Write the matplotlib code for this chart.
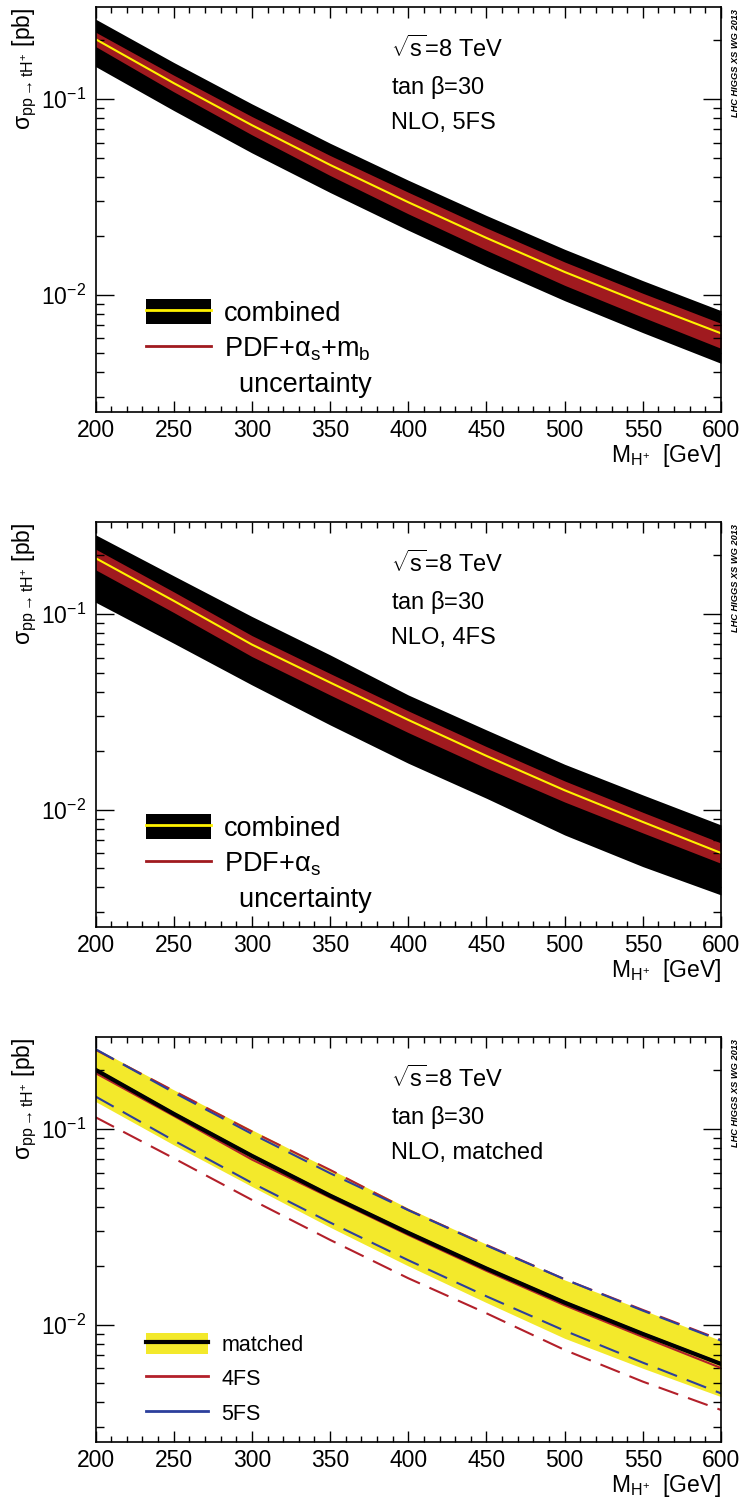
import matplotlib
matplotlib.use('Agg')
import matplotlib.pyplot as plt
import matplotlib.ticker as ticker
from matplotlib.patches import Patch
from matplotlib.lines import Line2D
from matplotlib.legend_handler import HandlerTuple

plt.rcParams.update({
    'font.family': ['Liberation Sans', 'DejaVu Sans'],
    'mathtext.fontset': 'custom',
    'mathtext.rm': 'Liberation Sans',
    'mathtext.it': 'Liberation Sans:italic',
    'mathtext.bf': 'Liberation Sans:bold',
    'mathtext.default': 'regular',
    'axes.unicode_minus': False,
    'axes.linewidth': 1.2,
})

# charged Higgs mass [GeV]
mass = [200, 250, 300, 350, 400, 450, 500, 550, 600]

# NLO 5FS cross sections [pb]
xs5_central = [0.2028, 0.1208, 0.0736, 0.0461, 0.0297, 0.0195, 0.01306, 0.00903, 0.00634]
xs5_comb_up = [0.2567, 0.1541, 0.0946, 0.0595, 0.0385, 0.0254, 0.01706, 0.01179, 0.00828]
xs5_comb_dn = [0.1469, 0.0875, 0.0531, 0.0333, 0.02135, 0.01396, 0.00931, 0.00639, 0.00445]
xs5_pdf_up = [0.2202, 0.1327, 0.0815, 0.0515, 0.0334, 0.02194, 0.01469, 0.01016, 0.00713]
xs5_pdf_dn = [0.1860, 0.1091, 0.0657, 0.0407, 0.0259, 0.01686, 0.01116, 0.00766, 0.00531]

# NLO 4FS cross sections [pb]
xs4_central = [0.1935, 0.1170, 0.0699, 0.0447, 0.02877, 0.01883, 0.01256, 0.00865, 0.00600]
xs4_comb_up = [0.2547, 0.1571, 0.0973, 0.0619, 0.0386, 0.02557, 0.01706, 0.01189, 0.00835]
xs4_comb_dn = [0.1151, 0.0710, 0.04346, 0.02713, 0.01727, 0.01143, 0.00742, 0.00511, 0.00366]
xs4_pdf_up = [0.2152, 0.1301, 0.0777, 0.0497, 0.0320, 0.02101, 0.01402, 0.00969, 0.00675]
xs4_pdf_dn = [0.1687, 0.1020, 0.0607, 0.0386, 0.02478, 0.01628, 0.01094, 0.00760, 0.00531]

# matched result [pb]
xsm_central = [0.2012, 0.1198, 0.0730, 0.0457, 0.02947, 0.01935, 0.01296, 0.00896, 0.00629]
xsm_up = [0.2599, 0.1590, 0.0992, 0.0624, 0.0394, 0.02578, 0.01693, 0.01189, 0.00828]
xsm_dn = [0.1385, 0.0831, 0.0509, 0.0315, 0.01997, 0.01296, 0.00851, 0.00598, 0.00428]

RED = '#a01a1f'
YELLOW = '#fff200'
BAND_YELLOW = '#f3e92b'
LRED = '#b3202a'
BLUE = '#2c3f9c'

fig = plt.figure(figsize=(7.45, 15.04), dpi=100)
bottoms = [0.72586, 0.38344, 0.04102]
axes = [fig.add_axes([0.1282, b, 0.8396, 0.26928]) for b in bottoms]


def style_axes(ax, scheme):
    ax.set_yscale('log')
    ax.set_xlim(200, 600)
    ax.set_ylim(0.0025, 0.295)
    ax.xaxis.set_major_locator(ticker.MultipleLocator(50))
    ax.xaxis.set_minor_locator(ticker.MultipleLocator(10))
    ax.yaxis.set_minor_locator(ticker.LogLocator(base=10, subs=range(2, 10)))
    ax.yaxis.set_minor_formatter(ticker.NullFormatter())
    ax.tick_params(which='both', direction='in', top=True, right=True, width=1.0, labelsize=16.5)
    ax.tick_params(axis='x', which='major', length=8, pad=4.5)
    ax.tick_params(axis='x', which='minor', length=4.3)
    ax.tick_params(axis='y', which='major', length=12.7, pad=6.5)
    ax.tick_params(axis='y', which='minor', length=6)
    ax.text(-0.1127, 1.0, r'$\sigma_{pp \rightarrow tH^{+}}$ [pb]', transform=ax.transAxes,
            rotation=90, rotation_mode='anchor', ha='right', va='center', fontsize=16.5)
    ax.text(1.0, -0.123, r'$M_{H^{+}}$  [GeV]', transform=ax.transAxes,
            ha='right', va='baseline', fontsize=16.5)
    ax.text(1.0224, 0.995, 'LHC HIGGS XS WG 2013', transform=ax.transAxes, rotation=90,
            ha='center', va='top', fontsize=6.7, fontweight='bold', style='italic')
    for y, s in zip([0.8765, 0.786, 0.699], [r'$\sqrt{s}$=8 TeV', r'tan $\beta$=30', 'NLO, ' + scheme]):
        ax.text(0.472, y, s, transform=ax.transAxes, ha='left', va='baseline', fontsize=17)


def draw_scheme(ax, comb_dn, comb_up, pdf_dn, pdf_up, central, scheme, pdf_label):
    ax.fill_between(mass, comb_dn, comb_up, color='black', lw=0)
    ax.fill_between(mass, pdf_dn, pdf_up, color=RED, lw=0)
    ax.plot(mass, central, color=YELLOW, lw=1.5)
    style_axes(ax, scheme)
    h_comb = (Patch(facecolor='black', edgecolor='none'), Line2D([], [], color=YELLOW, lw=2))
    h_pdf = Line2D([], [], color=RED, lw=2)
    h_blank = Line2D([], [], alpha=0)
    ax.legend([h_comb, h_pdf, h_blank], ['combined', pdf_label, '  uncertainty'],
              handler_map={tuple: HandlerTuple(ndivide=1, pad=0)},
              loc='upper left', bbox_to_anchor=(0.0807, 0.279), borderpad=0, borderaxespad=0,
              frameon=False, fontsize=19.5, handlelength=2.4, handleheight=1.0,
              handletextpad=0.48, labelspacing=0.3)


draw_scheme(axes[0], xs5_comb_dn, xs5_comb_up, xs5_pdf_dn, xs5_pdf_up, xs5_central,
            '5FS', r'PDF+$\alpha_{s}$+$m_{b}$')
draw_scheme(axes[1], xs4_comb_dn, xs4_comb_up, xs4_pdf_dn, xs4_pdf_up, xs4_central,
            '4FS', r'PDF+$\alpha_{s}$')

# matched panel
ax = axes[2]
ax.fill_between(mass, xsm_dn, xsm_up, color=BAND_YELLOW, lw=0)
dash = (0, (10, 5))
ax.plot(mass, xs4_comb_up, color=LRED, lw=1.5, ls=dash)
ax.plot(mass, xs4_comb_dn, color=LRED, lw=1.5, ls=dash)
ax.plot(mass, xs5_comb_up, color=BLUE, lw=1.5, ls=dash)
ax.plot(mass, xs5_comb_dn, color=BLUE, lw=1.5, ls=dash)
ax.plot(mass, xs4_central, color=LRED, lw=1.5)
ax.plot(mass, xs5_central, color=BLUE, lw=1.5)
ax.plot(mass, xsm_central, color='black', lw=3)
style_axes(ax, 'matched')
h_match = (Patch(facecolor=BAND_YELLOW, edgecolor='none'), Line2D([], [], color='black', lw=3))
h_4fs = Line2D([], [], color=LRED, lw=2)
h_5fs = Line2D([], [], color=BLUE, lw=2)
ax.legend([h_match, h_4fs, h_5fs], ['matched', '4FS', '5FS'],
          handler_map={tuple: HandlerTuple(ndivide=1, pad=0)},
          loc='upper left', bbox_to_anchor=(0.0807, 0.271), borderpad=0, borderaxespad=0,
          frameon=False, fontsize=15.5, handlelength=2.9, handleheight=1.15,
          handletextpad=0.6, labelspacing=0.55)

fig.savefig('out.png', dpi=100)
